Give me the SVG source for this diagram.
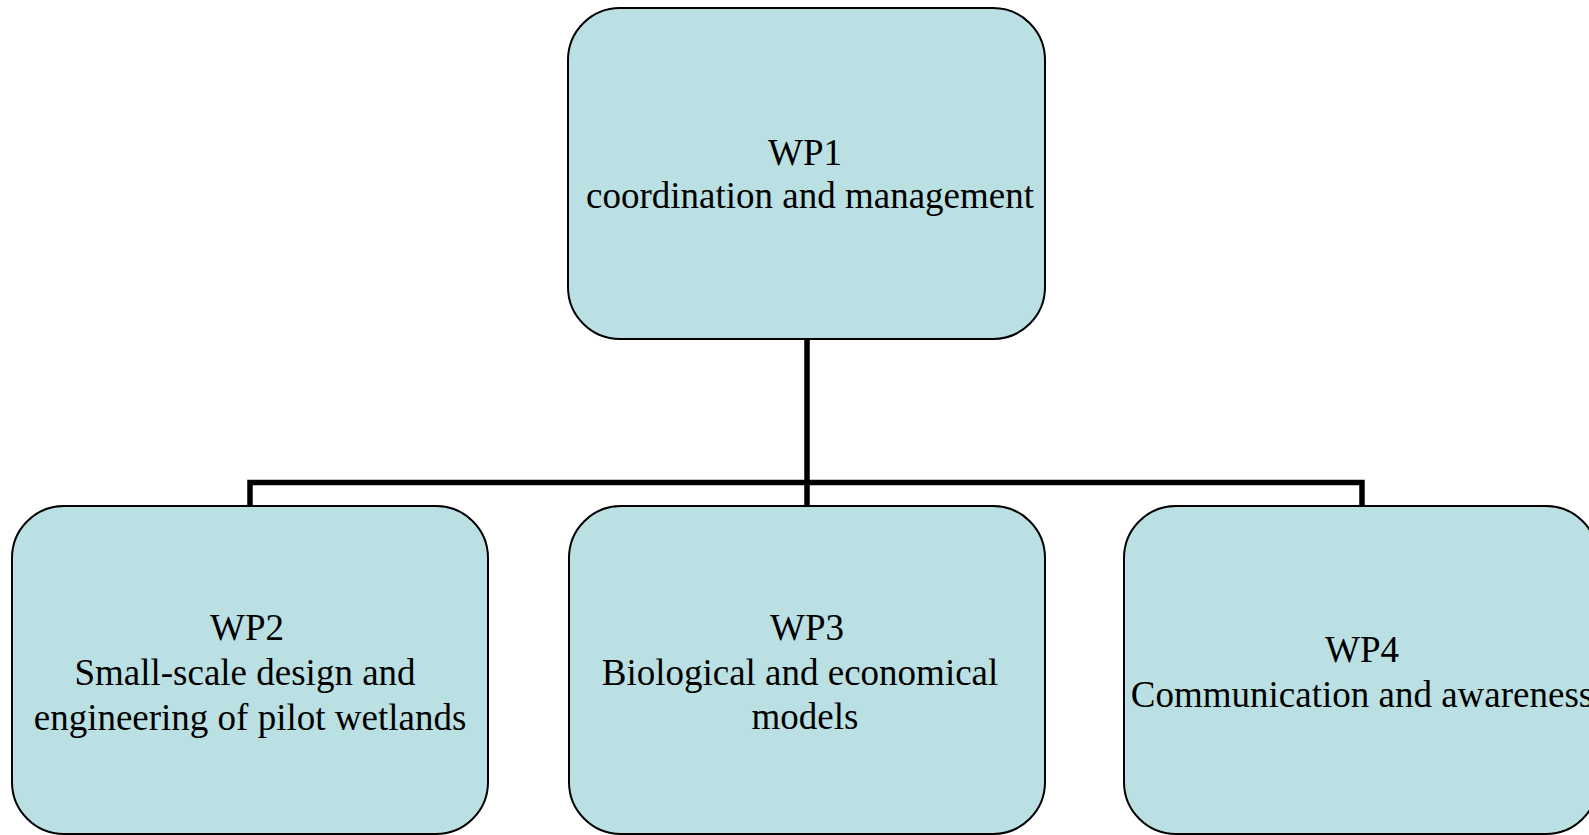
<svg xmlns="http://www.w3.org/2000/svg" width="1589" height="835" viewBox="0 0 1589 835">
<style>
.box{fill:#BAE0E3;stroke:#000;stroke-width:2}
.conn{fill:none;stroke:#000;stroke-width:5.5}
text{font-family:"Liberation Serif","Times New Roman",serif;font-size:37px;fill:#000;text-anchor:middle}
</style>
<rect width="1589" height="835" fill="#fff"/>
<g id="connectors">
<path class="conn" d="M807,339 V506"/>
<path class="conn" d="M250,506 V482.5 H1362 V506"/>
</g>
<g id="wp1">
<rect class="box" x="568" y="8" width="477" height="331" rx="52" ry="52"/>
<text x="805" y="165">WP1</text>
<text x="810" y="208">coordination and management</text>
</g>
<g id="wp2">
<rect class="box" x="12" y="506" width="476" height="328" rx="52" ry="52"/>
<text x="247" y="640">WP2</text>
<text x="245" y="685">Small-scale design and</text>
<text x="250" y="730">engineering of pilot wetlands</text>
</g>
<g id="wp3">
<rect class="box" x="569" y="506" width="476" height="328" rx="52" ry="52"/>
<text x="807" y="640">WP3</text>
<text x="800" y="685">Biological and economical</text>
<text x="805" y="729">models</text>
</g>
<g id="wp4">
<rect class="box" x="1124" y="506" width="474" height="328" rx="52" ry="52"/>
<text x="1362" y="662">WP4</text>
<text x="1362" y="707">Communication and awareness</text>
</g>
</svg>
